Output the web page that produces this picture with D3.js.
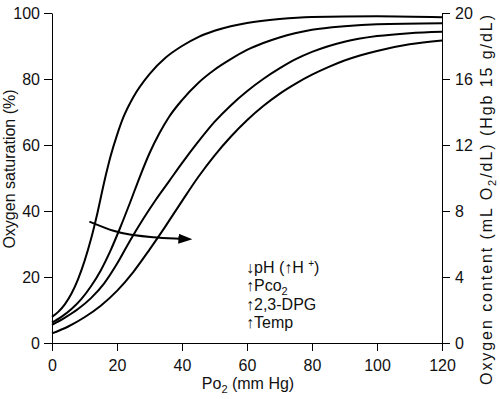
<!DOCTYPE html>
<html>
<head>
<meta charset="utf-8">
<script src="https://cdn.jsdelivr.net/npm/d3@7"></script>
<style>
  body { margin: 0; background: #fff; }
  svg { display: block; font-family: "Liberation Sans", Arial, Helvetica, sans-serif; }
</style>
</head>
<body>
<div id="chart"></div>
<script>
// Po2 (mm Hg) vs oxygen saturation (%)
var po2Ticks = [0, 20, 40, 60, 80, 100, 120];
var satTicks = [0, 20, 40, 60, 80, 100];
var contentTicks = [0, 4, 8, 12, 16, 20];

var curveNormal = [[0, 7.9], [2, 9.5], [4, 11.8], [6, 15], [8, 19.3], [10, 24.8], [12, 31.5], [14, 39.5], [16, 48.5],
  [18, 56.5], [20, 63], [22, 68.5], [25, 74.5], [30, 81.5], [35, 86.5], [40, 90], [45, 92.7], [50, 94.6], [55, 96],
  [60, 97], [70, 98.2], [80, 98.8], [100, 99], [120, 98.7]];
var curveShift1 = [[0, 6.2], [3, 8], [6, 10.3], [9, 13.3], [12, 17.2], [15, 22], [18, 28], [21, 35], [24, 42.5],
  [27, 50.3], [30, 57.5], [33, 63.5], [36, 68.5], [40, 73.6], [45, 78.8], [50, 82.8], [55, 86], [60, 88.8],
  [65, 90.9], [70, 92.6], [80, 94.9], [90, 96], [100, 96.6], [120, 96.9]];
var curveShift2 = [[0, 5.5], [4, 7.7], [8, 10.3], [12, 13.6], [16, 18], [20, 24], [24, 31], [28, 37.5], [32, 43.5],
  [36, 49], [40, 54.5], [45, 61], [50, 67], [55, 72], [60, 76.3], [65, 80], [70, 83.2], [75, 86], [80, 88.2],
  [90, 91.3], [100, 93], [110, 93.9], [120, 94.3]];
var curveShift3 = [[0, 2.9], [5, 5], [10, 7.8], [15, 11.3], [20, 15.8], [25, 21.5], [30, 28.3], [35, 35.5], [40, 43],
  [45, 50.3], [50, 56.8], [55, 62.5], [60, 67.5], [65, 71.8], [70, 75.5], [75, 78.6], [80, 81.3], [85, 83.6],
  [90, 85.6], [95, 87.2], [100, 88.5], [110, 90.5], [120, 91.7]];

// right shift arrow path
var shiftArrow = [[11.5, 36.8], [19.5, 33.6], [24.0, 32.8], [30.8, 32.0], [39.2, 31.6]];

var width = 500;
var height = 399;
var padLeft = 52, padRight = 442, padTop = 13, padBottom = 343;

var svg = d3.select("#chart")
  .append("svg")
  .attr("width", width)
  .attr("height", height);

var x = d3.scaleLinear().domain([0, 120]).range([padLeft, padRight]);
var y = d3.scaleLinear().domain([0, 100]).range([padBottom, padTop]);
var yRight = d3.scaleLinear().domain([0, 20]).range([padBottom, padTop]);

function styleAxis(g) {
  g.selectAll("path, line").attr("stroke", "#000").attr("stroke-width", 1);
  g.selectAll("text").attr("font-size", "16px").attr("fill", "#111")
    .attr("font-family", "'Liberation Sans', Arial, sans-serif");
}

svg.append("g")
  .attr("transform", "translate(0," + padBottom + ")")
  .call(d3.axisBottom(x).tickValues(po2Ticks).tickSize(8).tickSizeOuter(0).tickPadding(9))
  .call(styleAxis);

svg.append("g")
  .attr("transform", "translate(" + padLeft + ",0)")
  .call(d3.axisLeft(y).tickValues(satTicks).tickSize(8).tickSizeOuter(0).tickPadding(4))
  .call(styleAxis);

svg.append("g")
  .attr("transform", "translate(" + padRight + ",0)")
  .call(d3.axisRight(yRight).tickValues(contentTicks).tickSize(8).tickSizeOuter(0).tickPadding(5))
  .call(styleAxis);

// dissociation curves
var line = d3.line()
  .x(function (d) { return x(d[0]); })
  .y(function (d) { return y(d[1]); })
  .curve(d3.curveMonotoneX);

[curveNormal, curveShift1, curveShift2, curveShift3].forEach(function (c) {
  svg.append("path")
    .datum(c)
    .attr("fill", "none")
    .attr("stroke", "#000")
    .attr("stroke-width", 2)
    .attr("d", line);
});

// arrow
svg.append("defs").append("marker")
  .attr("id", "head")
  .attr("markerUnits", "userSpaceOnUse")
  .attr("viewBox", "0 0 14 10")
  .attr("refX", 1)
  .attr("refY", 5)
  .attr("markerWidth", 14)
  .attr("markerHeight", 10)
  .attr("orient", "auto")
  .append("path")
  .attr("d", "M0,0 L14,5 L0,10 Z")
  .attr("fill", "#000");

svg.append("path")
  .datum(shiftArrow)
  .attr("fill", "none")
  .attr("stroke", "#000")
  .attr("stroke-width", 2)
  .attr("marker-end", "url(#head)")
  .attr("d", d3.line()
    .x(function (d) { return x(d[0]); })
    .y(function (d) { return y(d[1]); })
    .curve(d3.curveBasis));

// annotation
var notes = svg.append("g").attr("font-size", "16px").attr("fill", "#111");
var n1 = notes.append("text").attr("x", 246).attr("y", 272.5);
n1.append("tspan").text("\u2193pH (\u2191H ");
n1.append("tspan").attr("font-size", "10px").attr("dy", -6).text("+");
n1.append("tspan").attr("dy", 6).text(")");
var n2 = notes.append("text").attr("x", 246).attr("y", 291);
n2.append("tspan").text("\u2191Pco");
n2.append("tspan").attr("font-size", "11px").attr("dy", 4).text("2");
notes.append("text").attr("x", 246).attr("y", 309.5).text("\u21912,3-DPG");
notes.append("text").attr("x", 246).attr("y", 328).text("\u2191Temp");

// axis titles
var xt = svg.append("text")
  .attr("x", 248)
  .attr("y", 389)
  .attr("text-anchor", "middle")
  .attr("font-size", "16px")
  .attr("fill", "#111");
xt.append("tspan").text("Po");
xt.append("tspan").attr("font-size", "11px").attr("dy", 4).text("2");
xt.append("tspan").attr("dy", -4).text(" (mm Hg)");

svg.append("text")
  .attr("transform", "translate(15," + ((padTop + padBottom) / 2 - 9) + ") rotate(-90)")
  .attr("text-anchor", "middle")
  .attr("font-size", "16px")
  .attr("fill", "#111")
  .text("Oxygen saturation (%)");

var rt = svg.append("text")
  .attr("transform", "translate(492,200) rotate(-90)")
  .attr("text-anchor", "middle")
  .attr("font-size", "16px")
  .attr("fill", "#111")
  .attr("textLength", 370)
  .attr("lengthAdjust", "spacing");
rt.append("tspan").text("Oxygen content (mL O");
rt.append("tspan").attr("font-size", "11px").attr("dy", 4).text("2");
rt.append("tspan").attr("dy", -4).text("/dL) (Hgb 15 g/dL)");
</script>
</body>
</html>
